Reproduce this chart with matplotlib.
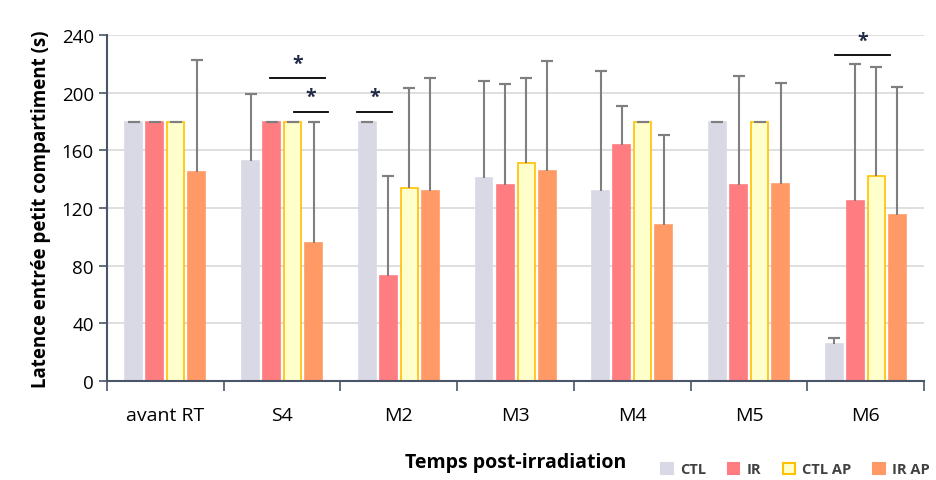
import numpy as np
import matplotlib.pyplot as plt
from matplotlib.patches import Patch

categories = ['avant RT', 'S4', 'M2', 'M3', 'M4', 'M5', 'M6']
series = ['CTL', 'IR', 'CTL AP', 'IR AP']

ctl = [180, 153, 180, 141, 132, 180, 26]
ir = [180, 180, 73, 136, 164, 136, 125]
ctl_ap = [180, 180, 134, 151, 180, 180, 142]
ir_ap = [145, 96, 132, 146, 108, 137, 115]

ctl_err = [0, 46, 0, 67, 83, 0, 4]
ir_err = [0, 0, 69, 70, 27, 76, 95]
ctl_ap_err = [0, 0, 69, 59, 0, 0, 76]
ir_ap_err = [78, 84, 78, 76, 63, 70, 89]

# significance brackets: (group, start in bar units, end in bar units, y level)
brackets = [(1, 0.93, 3.54, 210), (1, 2.07, 3.69, 187), (2, -0.49, 1.18, 187), (6, 0.05, 2.66, 226)]

values = [ctl, ir, ctl_ap, ir_ap]
errors = [ctl_err, ir_err, ctl_ap_err, ir_ap_err]
faces = ['#D9D9E6', '#FF7C80', '#FFFFCC', '#FF9966']
edges = ['#D9D9E6', '#FF7C80', '#FFC000', '#FF9966']

plt.rcParams['font.family'] = ['Open Sans', 'DejaVu Sans']

fig = plt.figure(figsize=(9.36, 4.81), dpi=100)
ax = fig.add_axes([0.1143, 0.2058, 0.873, 0.719])

x = np.arange(len(categories))
pitch = 0.18
width = 0.145
for i in range(4):
    pos = x + (i - 1.5) * pitch
    val = np.array(values[i])
    top = val + np.array(errors[i])
    ax.bar(pos, val, width, color=faces[i], edgecolor=edges[i],
           linewidth=1.2, zorder=3)
    # upward-only error bars: stem plus a cap at the top
    ax.vlines(pos, val, top, color='#7F7F7F', lw=1.5, zorder=4)
    ax.errorbar(pos, top, yerr=0, fmt='none', ecolor='#7F7F7F',
                capsize=4, capthick=1.5, zorder=4)

for g, a, b, y in brackets:
    x0 = g + (a - 1.5) * pitch
    x1 = g + (b - 1.5) * pitch
    ax.plot([x0, x1], [y, y], color='black', lw=1.3, zorder=5)
    ax.text((x0 + x1) / 2, y + 3, '*', ha='center', va='bottom',
            fontsize=14, fontweight='bold', color='#1F2A44')

ax.set_xlim(-0.5, len(categories) - 0.5)
ax.set_ylim(0, 240)
ax.set_yticks(range(0, 241, 40))
ax.yaxis.grid(True, color='#D9D9D9', lw=1.2, zorder=0)
ax.set_axisbelow(True)

ax.set_xticks(np.arange(-0.5, len(categories), 1))
ax.set_xticklabels([])
ax.set_xticks(x, minor=True)
ax.set_xticklabels(categories, minor=True, fontsize=14)
ax.tick_params(axis='x', which='major', length=7, width=1.2, color='#4A5568')
ax.tick_params(axis='x', which='minor', length=0, pad=18)
ax.tick_params(axis='y', length=6, width=1.2, color='#4A5568', labelsize=13.5)

for s in ['top', 'right']:
    ax.spines[s].set_visible(False)
for s in ['left', 'bottom']:
    ax.spines[s].set_color('#4A5568')
    ax.spines[s].set_linewidth(1.5)
    ax.spines[s].set_zorder(6)

ax.set_ylabel('Latence entrée petit compartiment (s)', fontsize=13.5,
              fontweight='bold', labelpad=8)
ax.set_xlabel('Temps post-irradiation', fontsize=14, fontweight='bold', labelpad=20)

handles = [Patch(facecolor=faces[i], edgecolor=edges[i], linewidth=1.5) for i in range(4)]
fig.legend(handles, series, loc='lower left', bbox_to_anchor=(0.692, -0.02), ncol=4,
           frameon=False, handlelength=0.8, handleheight=0.8, handletextpad=0.5,
           columnspacing=1.5, prop={'weight': 'bold', 'size': 10.5},
           labelcolor='#404040')

fig.savefig('out.png', dpi=100)
